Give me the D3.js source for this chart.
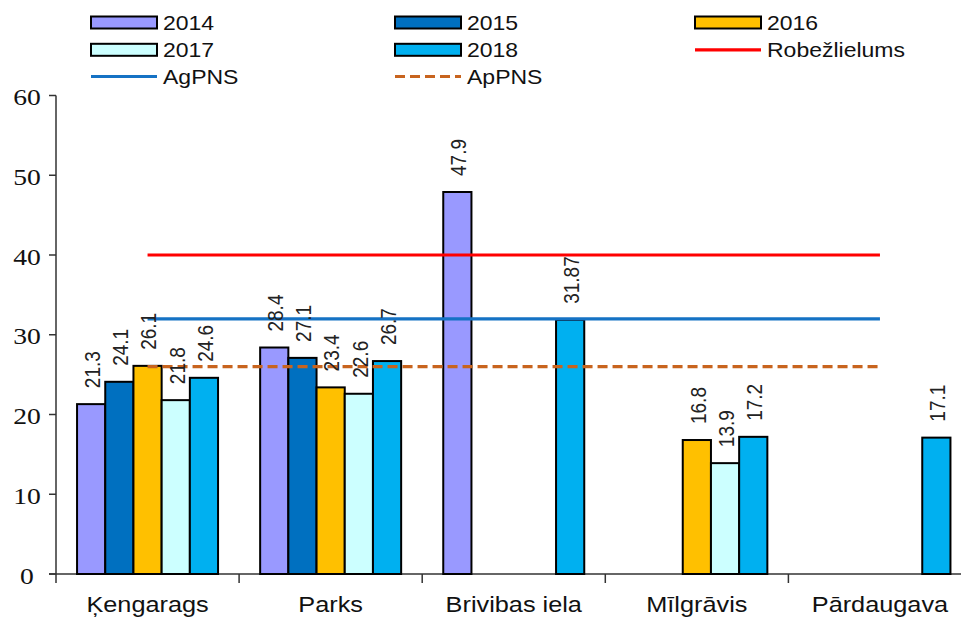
<!DOCTYPE html>
<html>
<head>
<meta charset="utf-8">
<script src="https://cdn.jsdelivr.net/npm/d3@7"></script>
<style>
  body { margin: 0; background: #fff; }
  svg { display: block; }
</style>
</head>
<body>
<svg id="chart" width="961" height="617"></svg>
<script>
// Monitoring stations and annual values per year
const categories = ["Ķengarags", "Parks", "Brivibas iela", "Mīlgrāvis", "Pārdaugava"];
const years = ["2014", "2015", "2016", "2017", "2018"];
const values2014 = [21.3, 28.4, 47.9, null, null];
const values2015 = [24.1, 27.1, null, null, null];
const values2016 = [26.1, 23.4, null, 16.8, null];
const values2017 = [21.8, 22.6, null, 13.9, null];
const values2018 = [24.6, 26.7, 31.87, 17.2, 17.1];
const seriesValues = [values2014, values2015, values2016, values2017, values2018];
const barColors = ["#9999FF", "#0070C0", "#FFC000", "#CCFFFF", "#00B0F0"];

// Reference levels drawn as lines across the stations
const robezlielums = [40, 40, 40, 40, 40];
const agpns = [32, 32, 32, 32, 32];
const appns = [26, 26, 26, 26, 26];
const lineSeries = [
  { name: "Robežlielums", values: robezlielums, color: "#FF0000", dash: null },
  { name: "AgPNS", values: agpns, color: "#1572C4", dash: null },
  { name: "ApPNS", values: appns, color: "#C8641E", dash: "10,5" }
];
const yTicks = [0, 10, 20, 30, 40, 50, 60];

const svg = d3.select("#chart");
const stretch = 1.15;
const sans = "'Liberation Sans', Arial, sans-serif";

const x = d3.scaleBand().domain(categories).range([56, 56 + 5 * 183.1]);
const xs = d3.scaleBand().domain(years).range([21.05, 162.05]);
const y = d3.scaleLinear().domain([0, 60]).range([574, 95.5]);

// horizontally widened text, placed at (px, py)
function wideText(parent, px, py, str, opts) {
  const g = parent.append("g")
    .attr("transform", `translate(${px},${py}) scale(${stretch},1)` + (opts.rotate ? " rotate(-90)" : ""));
  return g.append("text")
    .attr("font-family", opts.family || sans)
    .attr("font-size", opts.size)
    .attr("fill", opts.fill || "#000")
    .attr("text-anchor", opts.anchor || "start")
    .attr("dy", opts.dy || "0")
    .text(str);
}

// Axes
const axisColor = "#333";
svg.append("line").attr("x1", 56).attr("x2", 56).attr("y1", y(60)).attr("y2", y(0))
  .attr("stroke", axisColor).attr("stroke-width", 1.5);
svg.append("line").attr("x1", 49).attr("x2", 961).attr("y1", y(0)).attr("y2", y(0))
  .attr("stroke", axisColor).attr("stroke-width", 1.5);

yTicks.forEach(t => {
  svg.append("line").attr("x1", 49).attr("x2", 56).attr("y1", y(t)).attr("y2", y(t))
    .attr("stroke", axisColor).attr("stroke-width", 1.5);
  wideText(svg, 27, y(t), String(t), {
    size: 24, anchor: "middle", dy: "0.4em",
    family: "'Liberation Serif', 'Times New Roman', serif", fill: "#111"
  });
});

categories.forEach((c, i) => {
  const tx = x(c);
  svg.append("line").attr("x1", tx).attr("x2", tx).attr("y1", y(0)).attr("y2", y(0) + 9)
    .attr("stroke", axisColor).attr("stroke-width", 1.5);
  wideText(svg, tx + x.bandwidth() / 2, 612, c, { size: 22, anchor: "middle", fill: "#111" });
});

// Bars
const barLayer = svg.append("g");
seriesValues.forEach((vals, si) => {
  barLayer.selectAll(null)
    .data(vals.map((v, ci) => ({ v, c: categories[ci] })).filter(d => d.v != null))
    .join("rect")
    .attr("x", d => x(d.c) + xs(years[si]))
    .attr("y", d => y(d.v))
    .attr("width", xs.bandwidth())
    .attr("height", d => y(0) - y(d.v))
    .attr("fill", barColors[si])
    .attr("stroke", "#000")
    .attr("stroke-width", 2);
});

// Reference lines from the first to the last station centre
const lineGen = d3.line()
  .x((d, i) => x(categories[i]) + x.bandwidth() / 2)
  .y(d => y(d));
lineSeries.forEach(s => {
  svg.append("path")
    .attr("d", lineGen(s.values))
    .attr("fill", "none")
    .attr("stroke", s.color)
    .attr("stroke-width", 3.2)
    .attr("stroke-dasharray", s.dash);
});

// Value labels above the bars
const labelLayer = svg.append("g");
seriesValues.forEach((vals, si) => {
  vals.forEach((v, ci) => {
    if (v == null) return;
    const cx = x(categories[ci]) + xs(years[si]) + xs.bandwidth() / 2;
    wideText(labelLayer, cx, y(v) - 16, String(v), {
      size: 19, rotate: true, dy: "0.4em", fill: "#222"
    });
  });
});

// Legend
const legendCols = [91, 395, 695];
const legendRows = [22.5, 49.8, 76.5];
const legendItems = [
  ...years.map((yr, i) => ({ label: yr, type: "rect", color: barColors[i] })),
  ...lineSeries.map(s => ({ label: s.name, type: "line", color: s.color, dash: s.dash }))
];
legendItems.forEach((item, i) => {
  const lx = legendCols[i % 3];
  const ly = legendRows[Math.floor(i / 3)];
  if (item.type === "rect") {
    svg.append("rect").attr("x", lx).attr("y", ly - 6).attr("width", 66).attr("height", 12)
      .attr("fill", item.color).attr("stroke", "#000").attr("stroke-width", 2);
  } else {
    svg.append("line").attr("x1", lx).attr("x2", lx + 66).attr("y1", ly).attr("y2", ly)
      .attr("stroke", item.color).attr("stroke-width", 3.2)
      .attr("stroke-dasharray", item.dash);
  }
  wideText(svg, lx + 72, ly, item.label, { size: 20, dy: "0.36em", fill: "#111" });
});
</script>
</body>
</html>
